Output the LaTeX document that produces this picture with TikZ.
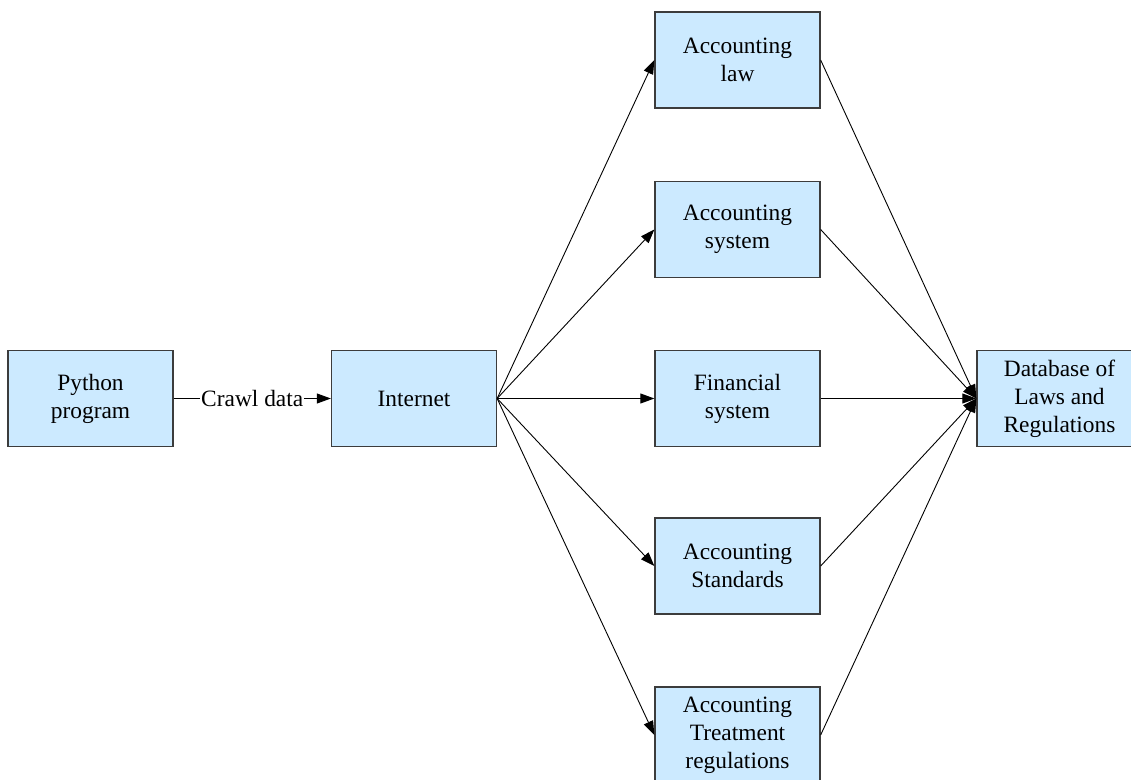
\documentclass[tikz,border=0pt]{standalone}
\usepackage{fontspec}
\setmainfont{Liberation Serif}
\usetikzlibrary{arrows.meta}
\definecolor{dbFill}{RGB}{204,234,255}
\definecolor{dbEdge}{RGB}{60,60,60}

\begin{document}
\begin{tikzpicture}[x=1bp,y=-1bp,font=\rmfamily\fontsize{23.5}{28}\selectfont,
    >={Triangle[length=14bp,width=10bp]},
    box/.style={draw=dbEdge,line width=1.3bp,fill=dbFill,minimum width=165bp,
      minimum height=96bp,align=center,inner sep=2bp},
    flow/.style={->,line width=0.9bp}]
        \useasboundingbox (0,0) rectangle (1131,780);
        % source and web
        \node[box] (py) at (90.5,398.5) {Python\\program};
        \node[box] (web) at (414,398.5) {Internet};
        % crawled categories
        \node[box] (law) at (737.5,60) {Accounting\\law};
        \node[box] (sys) at (737.5,229.5) {Accounting\\system};
        \node[box] (fin) at (737.5,398.5) {Financial\\system};
        \node[box] (std) at (737.5,566) {Accounting\\Standards};
        \node[box] (treat) at (737.5,735) {Accounting\\Treatment\\regulations};
        % target
        \node[box] (db) at (1059.5,398.5) {Database of\\Laws and\\Regulations};
        \draw[flow] (py) -- node[fill=white,inner sep=1bp] {Crawl data} (web);
        \foreach \n in {law,sys,fin,std,treat} {
          \draw[flow] (web.east) -- (\n.west);
          \draw[flow] (\n.east) -- (db.west);
        }
      \end{tikzpicture}
\end{document}
